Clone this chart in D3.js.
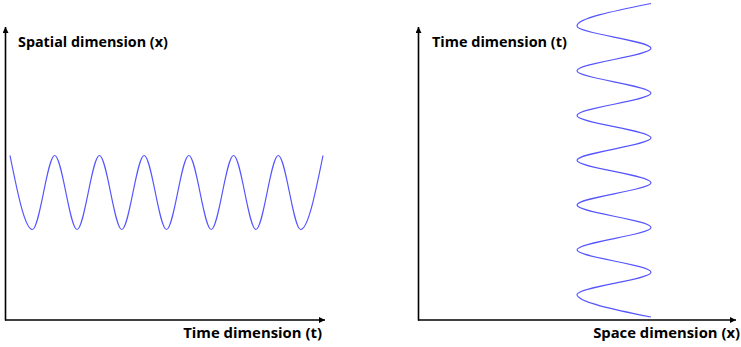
<!DOCTYPE html>
<html>
<head>
<meta charset="utf-8">
<script src="https://cdn.jsdelivr.net/npm/d3@7"></script>
<style>
  html, body { margin: 0; padding: 0; background: #fff; }
  svg { display: block; }
  text { font-family: "Liberation Sans Narrow", "Open Sans", "DejaVu Sans", sans-serif; font-weight: bold; fill: #000; }
</style>
</head>
<body>
<svg id="chart" width="741" height="347"></svg>
<script>
// Left panel: signal over time (extrema, in periods)
const leftTime  = [0, 0.5, 1, 1.5, 2, 2.5, 3, 3.5, 4, 4.5, 5, 5.5, 6, 6.5, 7];
const leftValue = [1, -1, 1, -1, 1, -1, 1, -1, 1, -1, 1, -1, 1, -1, 1];
// Right panel: signal over space, drawn vertically (time axis upward)
const rightTime  = [0, 0.5, 1, 1.5, 2, 2.5, 3, 3.5, 4, 4.5, 5, 5.5, 6, 6.5, 7];
const rightValue = [1, -1, 1, -1, 1, -1, 1, -1, 1, -1, 1, -1, 1, -1, 1];
// Axis labels
const leftYLabel = "Spatial dimension (x)";
const leftXLabel = "Time dimension (t)";
const rightYLabel = "Time dimension (t)";
const rightXLabel = "Space dimension (x)";

const svg = d3.select("#chart");
const defs = svg.append("defs");
defs.append("marker")
  .attr("id", "arrow")
  .attr("viewBox", "0 0 10 10")
  .attr("refX", 10).attr("refY", 5)
  .attr("markerUnits", "userSpaceOnUse")
  .attr("markerWidth", 7).attr("markerHeight", 6)
  .attr("orient", "auto")
  .append("path").attr("d", "M0,0 L10,5 L0,10 Z").attr("fill", "#000");

const waveColor = "#5555ff";

function axes(x0, y0, xEnd, yTop) {
  const g = svg.append("g");
  g.append("line").attr("x1", x0).attr("y1", y0 + 0.5).attr("x2", x0).attr("y2", yTop)
    .attr("stroke", "#000").attr("stroke-width", 1.6).attr("marker-end", "url(#arrow)");
  g.append("line").attr("x1", x0 - 0.5).attr("y1", y0).attr("x2", xEnd).attr("y2", y0)
    .attr("stroke", "#000").attr("stroke-width", 1.6).attr("marker-end", "url(#arrow)");
}

function label(txt, x, y, width, anchor) {
  const t = svg.append("text").attr("x", x).attr("y", y).attr("font-size", 14)
    .attr("text-anchor", anchor || "start").text(txt);
  const w = t.node().getComputedTextLength();
  t.attr("font-size", Math.min(15, 14 * width / w));
  return t;
}

// ---- Left panel ----
axes(5.5, 320, 325, 27);
const xL = d3.scaleLinear().domain([0, 7]).range([10, 323]);
const yL = d3.scaleLinear().domain([-1, 1]).range([229.5, 155.5]);
const pts = leftTime.map((t, i) => [t, leftValue[i]]);
svg.append("path")
  .attr("d", d3.line().x(d => xL(d[0])).y(d => yL(d[1])).curve(d3.curveMonotoneX)(pts))
  .attr("fill", "none").attr("stroke", waveColor).attr("stroke-width", 1.2);
label(leftYLabel, 18, 47, 150);
label(leftXLabel, 322, 338, 139, "end");

// ---- Right panel ----
axes(418.5, 320, 736, 27);
const yR = d3.scaleLinear().domain([0, 7]).range([317, 3.5]);
const xR = d3.scaleLinear().domain([-1, 1]).range([577, 651]);
const ptsR = rightTime.map((t, i) => [t, rightValue[i]]);
svg.append("path")
  .attr("d", d3.line().x(d => xR(d[1])).y(d => yR(d[0])).curve(d3.curveMonotoneY)(ptsR))
  .attr("fill", "none").attr("stroke", waveColor).attr("stroke-width", 1.2);
label(rightYLabel, 432, 47, 135);
label(rightXLabel, 740, 338, 147, "end");
</script>
</body>
</html>
